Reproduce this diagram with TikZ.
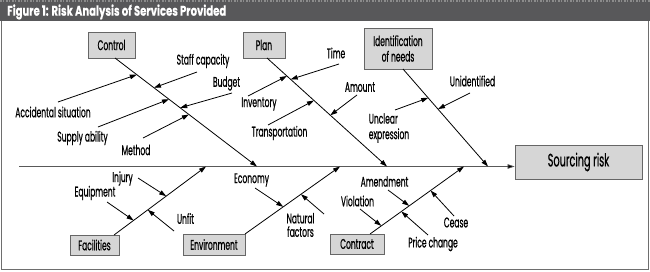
\documentclass[tikz,border=0pt]{standalone}
\usepackage{fontspec}
\setmainfont{Poppins}[FakeStretch=0.54, FakeBold=0.6]
\newfontfamily\titlefont{Poppins}[FakeStretch=0.72, FakeBold=0.3]
\usetikzlibrary{arrows.meta}
\definecolor{headgray}{HTML}{58585A}
\definecolor{boxgray}{HTML}{D6D6D6}
\definecolor{framegray}{HTML}{6E6E6E}
\newcommand\labfont{\fontsize{14}{15.5}\selectfont}
\tikzset{
  box/.style={draw=black!60, fill=boxgray, line width=0.7pt, inner sep=0pt, font=\labfont, align=center},
  lbl/.style={inner sep=0pt, font=\labfont, align=center},
  bone/.style={line width=0.8pt, -{Triangle[length=7pt,width=4.5pt]}},
  sub/.style={line width=0.8pt, -{Triangle[length=7pt,width=4.5pt]}},
  spine/.style={line width=0.6pt, draw=black!65, -{Triangle[length=7pt,width=4.5pt,fill=black]}},
}
\begin{document}
\begin{tikzpicture}[x=1pt,y=-1pt]
\useasboundingbox (0,0) rectangle (650,271);
% header and frame
\fill[white] (0,0) rectangle (650,271);
\fill[headgray] (0,0) rectangle (650,21);
\draw[black!45, line width=1.5pt, dash pattern=on 2pt off 1pt on 1pt off 2pt] (0,1) -- (650,1);
\draw[framegray, line width=1pt] (1,21) -- (1,269.5) -- (648.5,269.5) -- (648.5,21);
\node[anchor=west, inner sep=0pt, text=white, font=\fontsize{14}{15}\titlefont\bfseries] (title) at (7,12) {Figure 1: Risk Analysis of Services Provided};

% boxes
\node[box, minimum width=47pt, minimum height=26pt] (control) at (111.5,45) {Control};
\node[box, minimum width=42pt, minimum height=26pt] (plan) at (264,45) {Plan};
\node[box, minimum width=68pt, minimum height=41pt] (ident) at (398,48.5) {Identification\\of needs};
\node[box, minimum width=127pt, minimum height=34pt, font=\fontsize{18}{20}\selectfont] (risk) at (578.5,162) {Sourcing risk};
\node[box, minimum width=49pt, minimum height=20pt] (facil) at (94.5,245) {Facilities};
\node[box, minimum width=62pt, minimum height=21pt] (env) at (214,244.5) {Environment};
\node[box, minimum width=54pt, minimum height=20pt] (contract) at (357,244) {Contract};

% spine
\coordinate (sp0) at (19,166.5);
\draw[spine] (sp0) -- (sp0 -| risk.west);

% bone coordinates
\coordinate (cb0) at (115,58);  \coordinate (cbe) at (257,166.5);
\coordinate (pb0) at (267,58);  \coordinate (pbe) at (387,166.5);
\coordinate (ib0) at (403,69);  \coordinate (ibe) at (488,166.5);
\coordinate (fb0) at (114,235); \coordinate (fbe) at (206,166.5);
\coordinate (eb0) at (245,234); \coordinate (ebe) at (340,166.5);
\coordinate (kb0) at (370,234); \coordinate (kbe) at (464,166.5);
\draw[bone] (cb0) -- (cbe);
\draw[bone] (pb0) -- (pbe);
\draw[bone] (ib0) -- (ibe);
\draw[bone] (fb0) -- (fbe);
\draw[bone] (eb0) -- (ebe);
\draw[bone] (kb0) -- (kbe);

% labels
\node[lbl] (acc) at (53,112) {Accidental situation};
\node[lbl] (staff) at (203,61) {Staff capacity};
\node[lbl] (budget) at (226.5,83.5) {Budget};
\node[lbl] (supply) at (82.5,138) {Supply ability};
\node[lbl] (method) at (136,150) {Method};
\node[lbl] (time) at (336,53) {Time};
\node[lbl] (inv) at (259,104) {Inventory};
\node[lbl] (amount) at (360,87) {Amount};
\node[lbl] (transp) at (279.5,133) {Transportation};
\node[lbl] (unid) at (472.5,81) {Unidentified};
\node[lbl, align=left] (unclear) at (389,128) {Unclear\\expression};
\node[lbl] (injury) at (122.5,178.5) {Injury};
\node[lbl] (equip) at (95,193) {Equipment};
\node[lbl] (unfit) at (185.5,218.5) {Unfit};
\node[lbl] (economy) at (251.5,180) {Economy};
\node[lbl, font=\fontsize{14}{13.5}\selectfont] (natural) at (300.5,225) {Natural\\factors};
\node[lbl] (amend) at (384.5,181.5) {Amendment};
\node[lbl] (viol) at (357.5,201) {Violation};
\node[lbl] (cease) at (456,222.5) {Cease};
\node[lbl] (price) at (433,244) {Price change};

% sub-arrow start points and directions
\coordinate (s1) at (58,102);   \coordinate (t1) at (133,76);
\coordinate (s2) at (197,72);   \coordinate (t2) at (156,87);
\coordinate (s3) at (232,93);   \coordinate (t3) at (183,107);
\coordinate (s4) at (98,127);   \coordinate (t4) at (167,100);
\coordinate (s5) at (143,138);  \coordinate (t5) at (186,116);
\coordinate (s6) at (339,64);   \coordinate (t6) at (295,78);
\coordinate (s7) at (248,96);   \coordinate (t7) at (285,77);
\coordinate (s8) at (357,95);   \coordinate (t8) at (332,114);
\coordinate (s9) at (268,125);  \coordinate (t9) at (313,101);
\coordinate (s10) at (470,93);  \coordinate (t10) at (438,109);
\coordinate (s11) at (395,110); \coordinate (t11) at (425,99);
\coordinate (s12) at (138,178); \coordinate (t12) at (166,196);
\coordinate (s13) at (107,202); \coordinate (t13) at (133,220);
\coordinate (s14) at (174,231); \coordinate (t14) at (148,210);
\coordinate (s15) at (255,188); \coordinate (t15) at (282,206);
\coordinate (s16) at (324,214); \coordinate (t16) at (303,196);
\coordinate (s17) at (388,190); \coordinate (t17) at (408,205);
\coordinate (s18) at (360,209); \coordinate (t18) at (379,224);
\coordinate (s19) at (454,216); \coordinate (t19) at (431,191);
\coordinate (s20) at (428,235); \coordinate (t20) at (403,213);

\draw[sub] (s1) -- (intersection of s1--t1 and cb0--cbe);
\draw[sub] (s2) -- (intersection of s2--t2 and cb0--cbe);
\draw[sub] (s3) -- (intersection of s3--t3 and cb0--cbe);
\draw[sub] (s4) -- (intersection of s4--t4 and cb0--cbe);
\draw[sub] (s5) -- (intersection of s5--t5 and cb0--cbe);
\draw[sub] (s6) -- (intersection of s6--t6 and pb0--pbe);
\draw[sub] (s7) -- (intersection of s7--t7 and pb0--pbe);
\draw[sub] (s8) -- (intersection of s8--t8 and pb0--pbe);
\draw[sub] (s9) -- (intersection of s9--t9 and pb0--pbe);
\draw[sub] (s10) -- (intersection of s10--t10 and ib0--ibe);
\draw[sub] (s11) -- (intersection of s11--t11 and ib0--ibe);
\draw[sub] (s12) -- (intersection of s12--t12 and fb0--fbe);
\draw[sub] (s13) -- (intersection of s13--t13 and fb0--fbe);
\draw[sub] (s14) -- (intersection of s14--t14 and fb0--fbe);
\draw[sub] (s15) -- (intersection of s15--t15 and eb0--ebe);
\draw[sub] (s16) -- (intersection of s16--t16 and eb0--ebe);
\draw[sub] (s17) -- (intersection of s17--t17 and kb0--kbe);
\draw[sub] (s18) -- (intersection of s18--t18 and kb0--kbe);
\draw[sub] (s19) -- (intersection of s19--t19 and kb0--kbe);
\draw[sub] (s20) -- (intersection of s20--t20 and kb0--kbe);
\end{tikzpicture}
\end{document}
